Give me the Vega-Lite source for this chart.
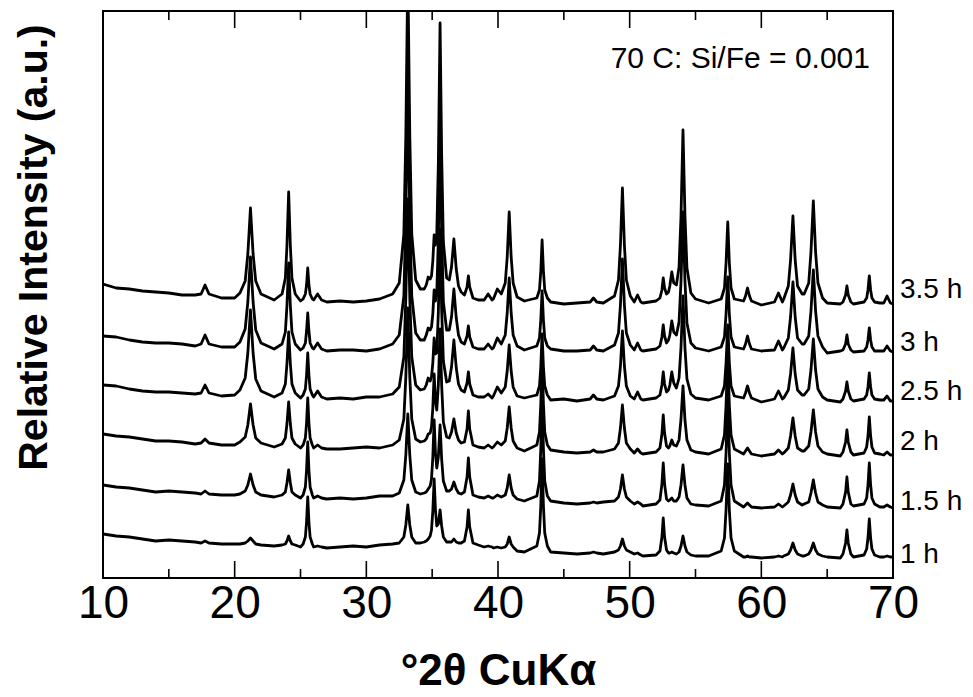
{
"$schema": "https://vega.github.io/schema/vega-lite/v6.json",
"width": 790, "height": 567,
"autosize": {"type": "none"},
"padding": {"left": 103, "top": 11, "right": 80, "bottom": 119},
"config": {"view": {"stroke": "#000", "strokeWidth": 2}, "font": "Liberation Sans, Arial, sans-serif", "axis": {"grid": false}},
"datasets": {
"xrd": [
{"t":"3.5 h","x":10,"y":294},{"t":"3.5 h","x":11,"y":290},{"t":"3.5 h","x":12,"y":289},{"t":"3.5 h","x":13,"y":287},{"t":"3.5 h","x":14,"y":286},{"t":"3.5 h","x":15,"y":285},{"t":"3.5 h","x":16,"y":283},{"t":"3.5 h","x":17,"y":283},{"t":"3.5 h","x":17.45,"y":284},{"t":"3.5 h","x":17.75,"y":293},{"t":"3.5 h","x":18.05,"y":284},{"t":"3.5 h","x":19,"y":280},{"t":"3.5 h","x":20,"y":280},{"t":"3.5 h","x":20.4,"y":285},{"t":"3.5 h","x":20.8,"y":297},{"t":"3.5 h","x":21,"y":324},{"t":"3.5 h","x":21.2,"y":370},{"t":"3.5 h","x":21.4,"y":324},{"t":"3.5 h","x":21.6,"y":297},{"t":"3.5 h","x":22,"y":284},{"t":"3.5 h","x":23,"y":278},{"t":"3.5 h","x":23.6,"y":284},{"t":"3.5 h","x":23.85,"y":300},{"t":"3.5 h","x":23.97,"y":332},{"t":"3.5 h","x":24.1,"y":386},{"t":"3.5 h","x":24.23,"y":332},{"t":"3.5 h","x":24.35,"y":300},{"t":"3.5 h","x":24.6,"y":284},{"t":"3.5 h","x":25,"y":277},{"t":"3.5 h","x":25.2,"y":279},{"t":"3.5 h","x":25.37,"y":284},{"t":"3.5 h","x":25.46,"y":293},{"t":"3.5 h","x":25.55,"y":310},{"t":"3.5 h","x":25.64,"y":293},{"t":"3.5 h","x":25.73,"y":284},{"t":"3.5 h","x":25.9,"y":279},{"t":"3.5 h","x":26,"y":278},{"t":"3.5 h","x":26.3,"y":284},{"t":"3.5 h","x":26.6,"y":278},{"t":"3.5 h","x":27,"y":276},{"t":"3.5 h","x":28,"y":277},{"t":"3.5 h","x":29,"y":276},{"t":"3.5 h","x":30,"y":277},{"t":"3.5 h","x":31,"y":279},{"t":"3.5 h","x":32,"y":284},{"t":"3.5 h","x":32.5,"y":295},{"t":"3.5 h","x":32.85,"y":344},{"t":"3.5 h","x":33,"y":443},{"t":"3.5 h","x":33.15,"y":608},{"t":"3.5 h","x":33.3,"y":443},{"t":"3.5 h","x":33.45,"y":344},{"t":"3.5 h","x":33.75,"y":298},{"t":"3.5 h","x":34.1,"y":289},{"t":"3.5 h","x":34.4,"y":289},{"t":"3.5 h","x":34.55,"y":293},{"t":"3.5 h","x":34.7,"y":301},{"t":"3.5 h","x":34.85,"y":299},{"t":"3.5 h","x":34.95,"y":302},{"t":"3.5 h","x":35.05,"y":317},{"t":"3.5 h","x":35.15,"y":343},{"t":"3.5 h","x":35.25,"y":333},{"t":"3.5 h","x":35.35,"y":344},{"t":"3.5 h","x":35.47,"y":415},{"t":"3.5 h","x":35.6,"y":555},{"t":"3.5 h","x":35.72,"y":423},{"t":"3.5 h","x":35.85,"y":336},{"t":"3.5 h","x":36.1,"y":300},{"t":"3.5 h","x":36.3,"y":298},{"t":"3.5 h","x":36.47,"y":311},{"t":"3.5 h","x":36.65,"y":339},{"t":"3.5 h","x":36.83,"y":309},{"t":"3.5 h","x":37,"y":292},{"t":"3.5 h","x":37.2,"y":286},{"t":"3.5 h","x":37.45,"y":283},{"t":"3.5 h","x":37.65,"y":291},{"t":"3.5 h","x":37.75,"y":302},{"t":"3.5 h","x":37.85,"y":291},{"t":"3.5 h","x":38.1,"y":280},{"t":"3.5 h","x":38.5,"y":278},{"t":"3.5 h","x":38.95,"y":278},{"t":"3.5 h","x":39.25,"y":284},{"t":"3.5 h","x":39.55,"y":278},{"t":"3.5 h","x":39.65,"y":279},{"t":"3.5 h","x":39.95,"y":289},{"t":"3.5 h","x":40.25,"y":284},{"t":"3.5 h","x":40.55,"y":295},{"t":"3.5 h","x":40.7,"y":321},{"t":"3.5 h","x":40.85,"y":366},{"t":"3.5 h","x":41,"y":321},{"t":"3.5 h","x":41.15,"y":295},{"t":"3.5 h","x":41.45,"y":281},{"t":"3.5 h","x":42,"y":277},{"t":"3.5 h","x":42.95,"y":280},{"t":"3.5 h","x":43.15,"y":288},{"t":"3.5 h","x":43.25,"y":307},{"t":"3.5 h","x":43.35,"y":338},{"t":"3.5 h","x":43.45,"y":307},{"t":"3.5 h","x":43.55,"y":288},{"t":"3.5 h","x":43.75,"y":280},{"t":"3.5 h","x":44,"y":276},{"t":"3.5 h","x":45,"y":274},{"t":"3.5 h","x":46,"y":275},{"t":"3.5 h","x":47,"y":276},{"t":"3.5 h","x":47.25,"y":280},{"t":"3.5 h","x":47.5,"y":276},{"t":"3.5 h","x":48,"y":275},{"t":"3.5 h","x":48.85,"y":282},{"t":"3.5 h","x":49.15,"y":298},{"t":"3.5 h","x":49.3,"y":333},{"t":"3.5 h","x":49.45,"y":390},{"t":"3.5 h","x":49.6,"y":333},{"t":"3.5 h","x":49.75,"y":298},{"t":"3.5 h","x":50.05,"y":282},{"t":"3.5 h","x":50.35,"y":276},{"t":"3.5 h","x":50.6,"y":283},{"t":"3.5 h","x":50.85,"y":276},{"t":"3.5 h","x":51,"y":275},{"t":"3.5 h","x":52,"y":277},{"t":"3.5 h","x":52.3,"y":280},{"t":"3.5 h","x":52.45,"y":288},{"t":"3.5 h","x":52.55,"y":300},{"t":"3.5 h","x":52.65,"y":290},{"t":"3.5 h","x":52.8,"y":284},{"t":"3.5 h","x":52.95,"y":286},{"t":"3.5 h","x":53.05,"y":292},{"t":"3.5 h","x":53.2,"y":306},{"t":"3.5 h","x":53.35,"y":295},{"t":"3.5 h","x":53.55,"y":293},{"t":"3.5 h","x":53.75,"y":311},{"t":"3.5 h","x":53.9,"y":362},{"t":"3.5 h","x":54.05,"y":448},{"t":"3.5 h","x":54.2,"y":362},{"t":"3.5 h","x":54.35,"y":310},{"t":"3.5 h","x":54.65,"y":285},{"t":"3.5 h","x":55,"y":279},{"t":"3.5 h","x":56,"y":275},{"t":"3.5 h","x":56.95,"y":279},{"t":"3.5 h","x":57.2,"y":290},{"t":"3.5 h","x":57.32,"y":315},{"t":"3.5 h","x":57.45,"y":356},{"t":"3.5 h","x":57.57,"y":315},{"t":"3.5 h","x":57.7,"y":290},{"t":"3.5 h","x":57.95,"y":279},{"t":"3.5 h","x":58.65,"y":277},{"t":"3.5 h","x":58.8,"y":282},{"t":"3.5 h","x":58.95,"y":290},{"t":"3.5 h","x":59.1,"y":282},{"t":"3.5 h","x":59.25,"y":277},{"t":"3.5 h","x":60,"y":273},{"t":"3.5 h","x":61,"y":276},{"t":"3.5 h","x":61.3,"y":285},{"t":"3.5 h","x":61.6,"y":276},{"t":"3.5 h","x":61.7,"y":279},{"t":"3.5 h","x":62.05,"y":292},{"t":"3.5 h","x":62.22,"y":318},{"t":"3.5 h","x":62.4,"y":362},{"t":"3.5 h","x":62.57,"y":318},{"t":"3.5 h","x":62.75,"y":292},{"t":"3.5 h","x":63.1,"y":284},{"t":"3.5 h","x":63.25,"y":284},{"t":"3.5 h","x":63.6,"y":295},{"t":"3.5 h","x":63.77,"y":326},{"t":"3.5 h","x":63.95,"y":377},{"t":"3.5 h","x":64.12,"y":326},{"t":"3.5 h","x":64.3,"y":295},{"t":"3.5 h","x":64.65,"y":280},{"t":"3.5 h","x":65,"y":275},{"t":"3.5 h","x":66,"y":274},{"t":"3.5 h","x":66.2,"y":276},{"t":"3.5 h","x":66.4,"y":283},{"t":"3.5 h","x":66.5,"y":292},{"t":"3.5 h","x":66.6,"y":283},{"t":"3.5 h","x":66.8,"y":276},{"t":"3.5 h","x":67,"y":274},{"t":"3.5 h","x":67.8,"y":276},{"t":"3.5 h","x":68,"y":280},{"t":"3.5 h","x":68.1,"y":288},{"t":"3.5 h","x":68.2,"y":302},{"t":"3.5 h","x":68.3,"y":288},{"t":"3.5 h","x":68.4,"y":280},{"t":"3.5 h","x":68.6,"y":276},{"t":"3.5 h","x":69,"y":275},{"t":"3.5 h","x":69.3,"y":275},{"t":"3.5 h","x":69.55,"y":282},{"t":"3.5 h","x":69.8,"y":275},{"t":"3.5 h","x":70,"y":274},
{"t":"3 h","x":10,"y":242},{"t":"3 h","x":11,"y":241},{"t":"3 h","x":12,"y":238},{"t":"3 h","x":13,"y":236},{"t":"3 h","x":14,"y":235},{"t":"3 h","x":15,"y":235},{"t":"3 h","x":16,"y":234},{"t":"3 h","x":17,"y":232},{"t":"3 h","x":17.45,"y":234},{"t":"3 h","x":17.75,"y":243},{"t":"3 h","x":18.05,"y":234},{"t":"3 h","x":19,"y":231},{"t":"3 h","x":20,"y":231},{"t":"3 h","x":20.4,"y":236},{"t":"3 h","x":20.8,"y":249},{"t":"3 h","x":21,"y":276},{"t":"3 h","x":21.2,"y":321},{"t":"3 h","x":21.4,"y":276},{"t":"3 h","x":21.6,"y":248},{"t":"3 h","x":22,"y":235},{"t":"3 h","x":23,"y":229},{"t":"3 h","x":23.6,"y":234},{"t":"3 h","x":23.85,"y":246},{"t":"3 h","x":23.97,"y":272},{"t":"3 h","x":24.1,"y":315},{"t":"3 h","x":24.23,"y":272},{"t":"3 h","x":24.35,"y":246},{"t":"3 h","x":24.6,"y":234},{"t":"3 h","x":25,"y":228},{"t":"3 h","x":25.2,"y":230},{"t":"3 h","x":25.37,"y":235},{"t":"3 h","x":25.46,"y":247},{"t":"3 h","x":25.55,"y":265},{"t":"3 h","x":25.64,"y":247},{"t":"3 h","x":25.73,"y":235},{"t":"3 h","x":25.9,"y":230},{"t":"3 h","x":26,"y":229},{"t":"3 h","x":26.3,"y":235},{"t":"3 h","x":26.6,"y":229},{"t":"3 h","x":27,"y":227},{"t":"3 h","x":28,"y":228},{"t":"3 h","x":29,"y":228},{"t":"3 h","x":30,"y":227},{"t":"3 h","x":31,"y":229},{"t":"3 h","x":32,"y":234},{"t":"3 h","x":32.5,"y":243},{"t":"3 h","x":32.85,"y":282},{"t":"3 h","x":33,"y":361},{"t":"3 h","x":33.15,"y":493},{"t":"3 h","x":33.3,"y":361},{"t":"3 h","x":33.45,"y":282},{"t":"3 h","x":33.75,"y":245},{"t":"3 h","x":34.1,"y":238},{"t":"3 h","x":34.4,"y":238},{"t":"3 h","x":34.55,"y":243},{"t":"3 h","x":34.7,"y":250},{"t":"3 h","x":34.85,"y":248},{"t":"3 h","x":34.95,"y":251},{"t":"3 h","x":35.05,"y":264},{"t":"3 h","x":35.15,"y":288},{"t":"3 h","x":35.25,"y":277},{"t":"3 h","x":35.35,"y":284},{"t":"3 h","x":35.47,"y":340},{"t":"3 h","x":35.6,"y":452},{"t":"3 h","x":35.72,"y":346},{"t":"3 h","x":35.85,"y":276},{"t":"3 h","x":36.1,"y":248},{"t":"3 h","x":36.3,"y":248},{"t":"3 h","x":36.47,"y":261},{"t":"3 h","x":36.65,"y":289},{"t":"3 h","x":36.83,"y":260},{"t":"3 h","x":37,"y":243},{"t":"3 h","x":37.2,"y":236},{"t":"3 h","x":37.45,"y":234},{"t":"3 h","x":37.65,"y":242},{"t":"3 h","x":37.75,"y":252},{"t":"3 h","x":37.85,"y":241},{"t":"3 h","x":38.1,"y":231},{"t":"3 h","x":38.5,"y":229},{"t":"3 h","x":38.95,"y":229},{"t":"3 h","x":39.25,"y":234},{"t":"3 h","x":39.55,"y":229},{"t":"3 h","x":39.65,"y":230},{"t":"3 h","x":39.95,"y":240},{"t":"3 h","x":40.25,"y":234},{"t":"3 h","x":40.55,"y":243},{"t":"3 h","x":40.7,"y":265},{"t":"3 h","x":40.85,"y":300},{"t":"3 h","x":41,"y":265},{"t":"3 h","x":41.15,"y":243},{"t":"3 h","x":41.45,"y":232},{"t":"3 h","x":42,"y":228},{"t":"3 h","x":42.95,"y":232},{"t":"3 h","x":43.15,"y":240},{"t":"3 h","x":43.25,"y":258},{"t":"3 h","x":43.35,"y":287},{"t":"3 h","x":43.45,"y":258},{"t":"3 h","x":43.55,"y":240},{"t":"3 h","x":43.75,"y":232},{"t":"3 h","x":44,"y":229},{"t":"3 h","x":45,"y":227},{"t":"3 h","x":46,"y":227},{"t":"3 h","x":47,"y":228},{"t":"3 h","x":47.25,"y":232},{"t":"3 h","x":47.5,"y":228},{"t":"3 h","x":48,"y":227},{"t":"3 h","x":48.85,"y":233},{"t":"3 h","x":49.15,"y":245},{"t":"3 h","x":49.3,"y":273},{"t":"3 h","x":49.45,"y":319},{"t":"3 h","x":49.6,"y":273},{"t":"3 h","x":49.75,"y":245},{"t":"3 h","x":50.05,"y":233},{"t":"3 h","x":50.35,"y":228},{"t":"3 h","x":50.6,"y":235},{"t":"3 h","x":50.85,"y":228},{"t":"3 h","x":51,"y":227},{"t":"3 h","x":52,"y":229},{"t":"3 h","x":52.3,"y":232},{"t":"3 h","x":52.45,"y":241},{"t":"3 h","x":52.55,"y":253},{"t":"3 h","x":52.65,"y":242},{"t":"3 h","x":52.8,"y":235},{"t":"3 h","x":52.95,"y":238},{"t":"3 h","x":53.05,"y":243},{"t":"3 h","x":53.2,"y":257},{"t":"3 h","x":53.35,"y":246},{"t":"3 h","x":53.55,"y":243},{"t":"3 h","x":53.75,"y":256},{"t":"3 h","x":53.9,"y":297},{"t":"3 h","x":54.05,"y":366},{"t":"3 h","x":54.2,"y":297},{"t":"3 h","x":54.35,"y":255},{"t":"3 h","x":54.65,"y":235},{"t":"3 h","x":55,"y":230},{"t":"3 h","x":56,"y":227},{"t":"3 h","x":56.95,"y":231},{"t":"3 h","x":57.2,"y":241},{"t":"3 h","x":57.32,"y":264},{"t":"3 h","x":57.45,"y":301},{"t":"3 h","x":57.57,"y":264},{"t":"3 h","x":57.7,"y":241},{"t":"3 h","x":57.95,"y":231},{"t":"3 h","x":58.65,"y":229},{"t":"3 h","x":58.8,"y":234},{"t":"3 h","x":58.95,"y":242},{"t":"3 h","x":59.1,"y":234},{"t":"3 h","x":59.25,"y":229},{"t":"3 h","x":60,"y":227},{"t":"3 h","x":61,"y":228},{"t":"3 h","x":61.3,"y":237},{"t":"3 h","x":61.6,"y":228},{"t":"3 h","x":61.7,"y":230},{"t":"3 h","x":62.05,"y":240},{"t":"3 h","x":62.22,"y":261},{"t":"3 h","x":62.4,"y":296},{"t":"3 h","x":62.57,"y":261},{"t":"3 h","x":62.75,"y":240},{"t":"3 h","x":63.1,"y":234},{"t":"3 h","x":63.25,"y":234},{"t":"3 h","x":63.6,"y":242},{"t":"3 h","x":63.77,"y":267},{"t":"3 h","x":63.95,"y":308},{"t":"3 h","x":64.12,"y":267},{"t":"3 h","x":64.3,"y":242},{"t":"3 h","x":64.65,"y":231},{"t":"3 h","x":65,"y":225},{"t":"3 h","x":66,"y":227},{"t":"3 h","x":66.2,"y":228},{"t":"3 h","x":66.4,"y":234},{"t":"3 h","x":66.5,"y":243},{"t":"3 h","x":66.6,"y":234},{"t":"3 h","x":66.8,"y":228},{"t":"3 h","x":67,"y":226},{"t":"3 h","x":67.8,"y":227},{"t":"3 h","x":68,"y":231},{"t":"3 h","x":68.1,"y":238},{"t":"3 h","x":68.2,"y":250},{"t":"3 h","x":68.3,"y":238},{"t":"3 h","x":68.4,"y":231},{"t":"3 h","x":68.6,"y":227},{"t":"3 h","x":69,"y":227},{"t":"3 h","x":69.3,"y":227},{"t":"3 h","x":69.55,"y":232},{"t":"3 h","x":69.8,"y":227},{"t":"3 h","x":70,"y":226},
{"t":"2.5 h","x":10,"y":193},{"t":"2.5 h","x":11,"y":192},{"t":"2.5 h","x":12,"y":189},{"t":"2.5 h","x":13,"y":187},{"t":"2.5 h","x":14,"y":186},{"t":"2.5 h","x":15,"y":186},{"t":"2.5 h","x":16,"y":185},{"t":"2.5 h","x":17,"y":184},{"t":"2.5 h","x":17.45,"y":185},{"t":"2.5 h","x":17.75,"y":193},{"t":"2.5 h","x":18.05,"y":185},{"t":"2.5 h","x":19,"y":182},{"t":"2.5 h","x":20,"y":183},{"t":"2.5 h","x":20.4,"y":188},{"t":"2.5 h","x":20.8,"y":200},{"t":"2.5 h","x":21,"y":225},{"t":"2.5 h","x":21.2,"y":268},{"t":"2.5 h","x":21.4,"y":225},{"t":"2.5 h","x":21.6,"y":199},{"t":"2.5 h","x":22,"y":187},{"t":"2.5 h","x":23,"y":181},{"t":"2.5 h","x":23.6,"y":185},{"t":"2.5 h","x":23.85,"y":194},{"t":"2.5 h","x":23.97,"y":214},{"t":"2.5 h","x":24.1,"y":246},{"t":"2.5 h","x":24.23,"y":214},{"t":"2.5 h","x":24.35,"y":194},{"t":"2.5 h","x":24.6,"y":185},{"t":"2.5 h","x":25,"y":180},{"t":"2.5 h","x":25.2,"y":183},{"t":"2.5 h","x":25.37,"y":189},{"t":"2.5 h","x":25.46,"y":203},{"t":"2.5 h","x":25.55,"y":225},{"t":"2.5 h","x":25.64,"y":203},{"t":"2.5 h","x":25.73,"y":189},{"t":"2.5 h","x":25.9,"y":183},{"t":"2.5 h","x":26,"y":181},{"t":"2.5 h","x":26.3,"y":187},{"t":"2.5 h","x":26.6,"y":181},{"t":"2.5 h","x":27,"y":179},{"t":"2.5 h","x":28,"y":180},{"t":"2.5 h","x":29,"y":179},{"t":"2.5 h","x":30,"y":181},{"t":"2.5 h","x":31,"y":181},{"t":"2.5 h","x":32,"y":184},{"t":"2.5 h","x":32.5,"y":191},{"t":"2.5 h","x":32.85,"y":221},{"t":"2.5 h","x":33,"y":280},{"t":"2.5 h","x":33.15,"y":379},{"t":"2.5 h","x":33.3,"y":280},{"t":"2.5 h","x":33.45,"y":221},{"t":"2.5 h","x":33.75,"y":193},{"t":"2.5 h","x":34.1,"y":188},{"t":"2.5 h","x":34.4,"y":189},{"t":"2.5 h","x":34.55,"y":193},{"t":"2.5 h","x":34.7,"y":200},{"t":"2.5 h","x":34.85,"y":197},{"t":"2.5 h","x":34.95,"y":201},{"t":"2.5 h","x":35.05,"y":215},{"t":"2.5 h","x":35.15,"y":240},{"t":"2.5 h","x":35.25,"y":224},{"t":"2.5 h","x":35.35,"y":225},{"t":"2.5 h","x":35.47,"y":266},{"t":"2.5 h","x":35.6,"y":349},{"t":"2.5 h","x":35.72,"y":269},{"t":"2.5 h","x":35.85,"y":217},{"t":"2.5 h","x":36.1,"y":196},{"t":"2.5 h","x":36.3,"y":197},{"t":"2.5 h","x":36.47,"y":211},{"t":"2.5 h","x":36.65,"y":238},{"t":"2.5 h","x":36.83,"y":210},{"t":"2.5 h","x":37,"y":194},{"t":"2.5 h","x":37.2,"y":188},{"t":"2.5 h","x":37.45,"y":186},{"t":"2.5 h","x":37.65,"y":195},{"t":"2.5 h","x":37.75,"y":206},{"t":"2.5 h","x":37.85,"y":194},{"t":"2.5 h","x":38.1,"y":183},{"t":"2.5 h","x":38.5,"y":181},{"t":"2.5 h","x":38.95,"y":181},{"t":"2.5 h","x":39.25,"y":184},{"t":"2.5 h","x":39.55,"y":180},{"t":"2.5 h","x":39.65,"y":182},{"t":"2.5 h","x":39.95,"y":191},{"t":"2.5 h","x":40.25,"y":185},{"t":"2.5 h","x":40.55,"y":191},{"t":"2.5 h","x":40.7,"y":207},{"t":"2.5 h","x":40.85,"y":233},{"t":"2.5 h","x":41,"y":207},{"t":"2.5 h","x":41.15,"y":191},{"t":"2.5 h","x":41.45,"y":182},{"t":"2.5 h","x":42,"y":180},{"t":"2.5 h","x":42.95,"y":183},{"t":"2.5 h","x":43.15,"y":192},{"t":"2.5 h","x":43.25,"y":211},{"t":"2.5 h","x":43.35,"y":244},{"t":"2.5 h","x":43.45,"y":211},{"t":"2.5 h","x":43.55,"y":192},{"t":"2.5 h","x":43.75,"y":183},{"t":"2.5 h","x":44,"y":178},{"t":"2.5 h","x":45,"y":179},{"t":"2.5 h","x":46,"y":177},{"t":"2.5 h","x":47,"y":179},{"t":"2.5 h","x":47.25,"y":183},{"t":"2.5 h","x":47.5,"y":179},{"t":"2.5 h","x":48,"y":178},{"t":"2.5 h","x":48.85,"y":182},{"t":"2.5 h","x":49.15,"y":192},{"t":"2.5 h","x":49.3,"y":212},{"t":"2.5 h","x":49.45,"y":247},{"t":"2.5 h","x":49.6,"y":212},{"t":"2.5 h","x":49.75,"y":192},{"t":"2.5 h","x":50.05,"y":182},{"t":"2.5 h","x":50.35,"y":179},{"t":"2.5 h","x":50.6,"y":186},{"t":"2.5 h","x":50.85,"y":179},{"t":"2.5 h","x":51,"y":178},{"t":"2.5 h","x":52,"y":180},{"t":"2.5 h","x":52.3,"y":183},{"t":"2.5 h","x":52.45,"y":193},{"t":"2.5 h","x":52.55,"y":206},{"t":"2.5 h","x":52.65,"y":194},{"t":"2.5 h","x":52.8,"y":186},{"t":"2.5 h","x":52.95,"y":188},{"t":"2.5 h","x":53.05,"y":193},{"t":"2.5 h","x":53.2,"y":206},{"t":"2.5 h","x":53.35,"y":195},{"t":"2.5 h","x":53.55,"y":190},{"t":"2.5 h","x":53.75,"y":200},{"t":"2.5 h","x":53.9,"y":231},{"t":"2.5 h","x":54.05,"y":282},{"t":"2.5 h","x":54.2,"y":230},{"t":"2.5 h","x":54.35,"y":199},{"t":"2.5 h","x":54.65,"y":184},{"t":"2.5 h","x":55,"y":180},{"t":"2.5 h","x":56,"y":178},{"t":"2.5 h","x":56.95,"y":182},{"t":"2.5 h","x":57.2,"y":192},{"t":"2.5 h","x":57.32,"y":215},{"t":"2.5 h","x":57.45,"y":253},{"t":"2.5 h","x":57.57,"y":215},{"t":"2.5 h","x":57.7,"y":192},{"t":"2.5 h","x":57.95,"y":182},{"t":"2.5 h","x":58.65,"y":180},{"t":"2.5 h","x":58.8,"y":185},{"t":"2.5 h","x":58.95,"y":192},{"t":"2.5 h","x":59.1,"y":185},{"t":"2.5 h","x":59.25,"y":180},{"t":"2.5 h","x":60,"y":176},{"t":"2.5 h","x":61,"y":179},{"t":"2.5 h","x":61.3,"y":187},{"t":"2.5 h","x":61.6,"y":179},{"t":"2.5 h","x":61.7,"y":180},{"t":"2.5 h","x":62.05,"y":188},{"t":"2.5 h","x":62.22,"y":204},{"t":"2.5 h","x":62.4,"y":230},{"t":"2.5 h","x":62.57,"y":204},{"t":"2.5 h","x":62.75,"y":188},{"t":"2.5 h","x":63.1,"y":183},{"t":"2.5 h","x":63.25,"y":183},{"t":"2.5 h","x":63.6,"y":189},{"t":"2.5 h","x":63.77,"y":208},{"t":"2.5 h","x":63.95,"y":239},{"t":"2.5 h","x":64.12,"y":208},{"t":"2.5 h","x":64.3,"y":189},{"t":"2.5 h","x":64.65,"y":181},{"t":"2.5 h","x":65,"y":178},{"t":"2.5 h","x":66,"y":176},{"t":"2.5 h","x":66.2,"y":179},{"t":"2.5 h","x":66.4,"y":187},{"t":"2.5 h","x":66.5,"y":196},{"t":"2.5 h","x":66.6,"y":187},{"t":"2.5 h","x":66.8,"y":179},{"t":"2.5 h","x":67,"y":177},{"t":"2.5 h","x":67.8,"y":179},{"t":"2.5 h","x":68,"y":183},{"t":"2.5 h","x":68.1,"y":191},{"t":"2.5 h","x":68.2,"y":205},{"t":"2.5 h","x":68.3,"y":191},{"t":"2.5 h","x":68.4,"y":183},{"t":"2.5 h","x":68.6,"y":179},{"t":"2.5 h","x":69,"y":178},{"t":"2.5 h","x":69.3,"y":178},{"t":"2.5 h","x":69.55,"y":182},{"t":"2.5 h","x":69.8,"y":177},{"t":"2.5 h","x":70,"y":177},
{"t":"2 h","x":10,"y":144},{"t":"2 h","x":11,"y":142},{"t":"2 h","x":12,"y":141},{"t":"2 h","x":13,"y":139},{"t":"2 h","x":14,"y":137},{"t":"2 h","x":15,"y":137},{"t":"2 h","x":16,"y":136},{"t":"2 h","x":17,"y":134},{"t":"2 h","x":17.45,"y":135},{"t":"2 h","x":17.75,"y":139},{"t":"2 h","x":18.05,"y":135},{"t":"2 h","x":19,"y":133},{"t":"2 h","x":20,"y":133},{"t":"2 h","x":20.4,"y":136},{"t":"2 h","x":20.8,"y":141},{"t":"2 h","x":21,"y":153},{"t":"2 h","x":21.2,"y":174},{"t":"2 h","x":21.4,"y":153},{"t":"2 h","x":21.6,"y":140},{"t":"2 h","x":22,"y":135},{"t":"2 h","x":23,"y":131},{"t":"2 h","x":23.6,"y":134},{"t":"2 h","x":23.85,"y":140},{"t":"2 h","x":23.97,"y":154},{"t":"2 h","x":24.1,"y":176},{"t":"2 h","x":24.23,"y":154},{"t":"2 h","x":24.35,"y":140},{"t":"2 h","x":24.6,"y":134},{"t":"2 h","x":25,"y":130},{"t":"2 h","x":25.2,"y":133},{"t":"2 h","x":25.37,"y":140},{"t":"2 h","x":25.46,"y":155},{"t":"2 h","x":25.55,"y":180},{"t":"2 h","x":25.64,"y":155},{"t":"2 h","x":25.73,"y":140},{"t":"2 h","x":25.9,"y":133},{"t":"2 h","x":26,"y":130},{"t":"2 h","x":26.3,"y":133},{"t":"2 h","x":26.6,"y":130},{"t":"2 h","x":27,"y":129},{"t":"2 h","x":28,"y":129},{"t":"2 h","x":29,"y":130},{"t":"2 h","x":30,"y":131},{"t":"2 h","x":31,"y":130},{"t":"2 h","x":32,"y":133},{"t":"2 h","x":32.5,"y":138},{"t":"2 h","x":32.85,"y":159},{"t":"2 h","x":33,"y":201},{"t":"2 h","x":33.15,"y":270},{"t":"2 h","x":33.3,"y":201},{"t":"2 h","x":33.45,"y":159},{"t":"2 h","x":33.75,"y":139},{"t":"2 h","x":34.1,"y":136},{"t":"2 h","x":34.4,"y":137},{"t":"2 h","x":34.55,"y":139},{"t":"2 h","x":34.7,"y":144},{"t":"2 h","x":34.85,"y":145},{"t":"2 h","x":34.95,"y":151},{"t":"2 h","x":35.05,"y":170},{"t":"2 h","x":35.15,"y":204},{"t":"2 h","x":35.25,"y":177},{"t":"2 h","x":35.35,"y":168},{"t":"2 h","x":35.47,"y":193},{"t":"2 h","x":35.6,"y":249},{"t":"2 h","x":35.72,"y":193},{"t":"2 h","x":35.85,"y":156},{"t":"2 h","x":36.1,"y":141},{"t":"2 h","x":36.3,"y":140},{"t":"2 h","x":36.47,"y":146},{"t":"2 h","x":36.65,"y":159},{"t":"2 h","x":36.83,"y":145},{"t":"2 h","x":37,"y":138},{"t":"2 h","x":37.2,"y":135},{"t":"2 h","x":37.45,"y":136},{"t":"2 h","x":37.65,"y":149},{"t":"2 h","x":37.75,"y":167},{"t":"2 h","x":37.85,"y":149},{"t":"2 h","x":38.1,"y":133},{"t":"2 h","x":38.5,"y":131},{"t":"2 h","x":38.95,"y":130},{"t":"2 h","x":39.25,"y":133},{"t":"2 h","x":39.55,"y":130},{"t":"2 h","x":39.65,"y":131},{"t":"2 h","x":39.95,"y":136},{"t":"2 h","x":40.25,"y":133},{"t":"2 h","x":40.55,"y":137},{"t":"2 h","x":40.7,"y":150},{"t":"2 h","x":40.85,"y":171},{"t":"2 h","x":41,"y":150},{"t":"2 h","x":41.15,"y":137},{"t":"2 h","x":41.45,"y":130},{"t":"2 h","x":42,"y":127},{"t":"2 h","x":42.95,"y":133},{"t":"2 h","x":43.15,"y":146},{"t":"2 h","x":43.25,"y":174},{"t":"2 h","x":43.35,"y":220},{"t":"2 h","x":43.45,"y":174},{"t":"2 h","x":43.55,"y":146},{"t":"2 h","x":43.75,"y":133},{"t":"2 h","x":44,"y":128},{"t":"2 h","x":45,"y":126},{"t":"2 h","x":46,"y":125},{"t":"2 h","x":47,"y":126},{"t":"2 h","x":47.25,"y":128},{"t":"2 h","x":47.5,"y":126},{"t":"2 h","x":48,"y":126},{"t":"2 h","x":48.85,"y":129},{"t":"2 h","x":49.15,"y":135},{"t":"2 h","x":49.3,"y":150},{"t":"2 h","x":49.45,"y":173},{"t":"2 h","x":49.6,"y":150},{"t":"2 h","x":49.75,"y":135},{"t":"2 h","x":50.05,"y":129},{"t":"2 h","x":50.35,"y":125},{"t":"2 h","x":50.6,"y":129},{"t":"2 h","x":50.85,"y":125},{"t":"2 h","x":51,"y":124},{"t":"2 h","x":52,"y":126},{"t":"2 h","x":52.3,"y":130},{"t":"2 h","x":52.45,"y":144},{"t":"2 h","x":52.55,"y":163},{"t":"2 h","x":52.65,"y":145},{"t":"2 h","x":52.8,"y":132},{"t":"2 h","x":52.95,"y":130},{"t":"2 h","x":53.05,"y":132},{"t":"2 h","x":53.2,"y":138},{"t":"2 h","x":53.35,"y":133},{"t":"2 h","x":53.55,"y":132},{"t":"2 h","x":53.75,"y":138},{"t":"2 h","x":53.9,"y":159},{"t":"2 h","x":54.05,"y":192},{"t":"2 h","x":54.2,"y":158},{"t":"2 h","x":54.35,"y":138},{"t":"2 h","x":54.65,"y":128},{"t":"2 h","x":55,"y":126},{"t":"2 h","x":56,"y":124},{"t":"2 h","x":56.95,"y":129},{"t":"2 h","x":57.2,"y":143},{"t":"2 h","x":57.32,"y":173},{"t":"2 h","x":57.45,"y":222},{"t":"2 h","x":57.57,"y":173},{"t":"2 h","x":57.7,"y":143},{"t":"2 h","x":57.95,"y":129},{"t":"2 h","x":58.65,"y":124},{"t":"2 h","x":58.8,"y":127},{"t":"2 h","x":58.95,"y":130},{"t":"2 h","x":59.1,"y":127},{"t":"2 h","x":59.25,"y":124},{"t":"2 h","x":60,"y":122},{"t":"2 h","x":61,"y":124},{"t":"2 h","x":61.3,"y":128},{"t":"2 h","x":61.6,"y":124},{"t":"2 h","x":61.7,"y":125},{"t":"2 h","x":62.05,"y":130},{"t":"2 h","x":62.22,"y":142},{"t":"2 h","x":62.4,"y":160},{"t":"2 h","x":62.57,"y":142},{"t":"2 h","x":62.75,"y":130},{"t":"2 h","x":63.1,"y":127},{"t":"2 h","x":63.25,"y":127},{"t":"2 h","x":63.6,"y":132},{"t":"2 h","x":63.77,"y":146},{"t":"2 h","x":63.95,"y":168},{"t":"2 h","x":64.12,"y":146},{"t":"2 h","x":64.3,"y":132},{"t":"2 h","x":64.65,"y":126},{"t":"2 h","x":65,"y":124},{"t":"2 h","x":66,"y":122},{"t":"2 h","x":66.2,"y":126},{"t":"2 h","x":66.4,"y":136},{"t":"2 h","x":66.5,"y":148},{"t":"2 h","x":66.6,"y":136},{"t":"2 h","x":66.8,"y":126},{"t":"2 h","x":67,"y":123},{"t":"2 h","x":67.8,"y":125},{"t":"2 h","x":68,"y":131},{"t":"2 h","x":68.1,"y":142},{"t":"2 h","x":68.2,"y":161},{"t":"2 h","x":68.3,"y":142},{"t":"2 h","x":68.4,"y":131},{"t":"2 h","x":68.6,"y":125},{"t":"2 h","x":69,"y":124},{"t":"2 h","x":69.3,"y":123},{"t":"2 h","x":69.55,"y":126},{"t":"2 h","x":69.8,"y":123},{"t":"2 h","x":70,"y":123},
{"t":"1.5 h","x":10,"y":93},{"t":"1.5 h","x":11,"y":91},{"t":"1.5 h","x":12,"y":90},{"t":"1.5 h","x":13,"y":88},{"t":"1.5 h","x":14,"y":86},{"t":"1.5 h","x":15,"y":87},{"t":"1.5 h","x":16,"y":86},{"t":"1.5 h","x":17,"y":85},{"t":"1.5 h","x":17.45,"y":84},{"t":"1.5 h","x":17.75,"y":87},{"t":"1.5 h","x":18.05,"y":84},{"t":"1.5 h","x":19,"y":83},{"t":"1.5 h","x":20,"y":83},{"t":"1.5 h","x":20.4,"y":84},{"t":"1.5 h","x":20.8,"y":87},{"t":"1.5 h","x":21,"y":93},{"t":"1.5 h","x":21.2,"y":104},{"t":"1.5 h","x":21.4,"y":93},{"t":"1.5 h","x":21.6,"y":86},{"t":"1.5 h","x":22,"y":83},{"t":"1.5 h","x":23,"y":81},{"t":"1.5 h","x":23.6,"y":83},{"t":"1.5 h","x":23.85,"y":86},{"t":"1.5 h","x":23.97,"y":95},{"t":"1.5 h","x":24.1,"y":108},{"t":"1.5 h","x":24.23,"y":95},{"t":"1.5 h","x":24.35,"y":86},{"t":"1.5 h","x":24.6,"y":83},{"t":"1.5 h","x":25,"y":80},{"t":"1.5 h","x":25.2,"y":83},{"t":"1.5 h","x":25.37,"y":91},{"t":"1.5 h","x":25.46,"y":108},{"t":"1.5 h","x":25.55,"y":136},{"t":"1.5 h","x":25.64,"y":108},{"t":"1.5 h","x":25.73,"y":91},{"t":"1.5 h","x":25.9,"y":83},{"t":"1.5 h","x":26,"y":80},{"t":"1.5 h","x":26.3,"y":82},{"t":"1.5 h","x":26.6,"y":80},{"t":"1.5 h","x":27,"y":79},{"t":"1.5 h","x":28,"y":80},{"t":"1.5 h","x":29,"y":79},{"t":"1.5 h","x":30,"y":80},{"t":"1.5 h","x":31,"y":82},{"t":"1.5 h","x":32,"y":82},{"t":"1.5 h","x":32.5,"y":85},{"t":"1.5 h","x":32.85,"y":98},{"t":"1.5 h","x":33,"y":123},{"t":"1.5 h","x":33.15,"y":164},{"t":"1.5 h","x":33.3,"y":123},{"t":"1.5 h","x":33.45,"y":98},{"t":"1.5 h","x":33.75,"y":86},{"t":"1.5 h","x":34.1,"y":84},{"t":"1.5 h","x":34.4,"y":85},{"t":"1.5 h","x":34.55,"y":86},{"t":"1.5 h","x":34.7,"y":89},{"t":"1.5 h","x":34.85,"y":92},{"t":"1.5 h","x":34.95,"y":99},{"t":"1.5 h","x":35.05,"y":121},{"t":"1.5 h","x":35.15,"y":158},{"t":"1.5 h","x":35.25,"y":125},{"t":"1.5 h","x":35.35,"y":110},{"t":"1.5 h","x":35.47,"y":121},{"t":"1.5 h","x":35.6,"y":153},{"t":"1.5 h","x":35.72,"y":119},{"t":"1.5 h","x":35.85,"y":97},{"t":"1.5 h","x":36.1,"y":87},{"t":"1.5 h","x":36.3,"y":87},{"t":"1.5 h","x":36.47,"y":89},{"t":"1.5 h","x":36.65,"y":96},{"t":"1.5 h","x":36.83,"y":89},{"t":"1.5 h","x":37,"y":85},{"t":"1.5 h","x":37.2,"y":84},{"t":"1.5 h","x":37.45,"y":86},{"t":"1.5 h","x":37.65,"y":101},{"t":"1.5 h","x":37.75,"y":120},{"t":"1.5 h","x":37.85,"y":101},{"t":"1.5 h","x":38.1,"y":83},{"t":"1.5 h","x":38.5,"y":81},{"t":"1.5 h","x":38.95,"y":80},{"t":"1.5 h","x":39.25,"y":82},{"t":"1.5 h","x":39.55,"y":80},{"t":"1.5 h","x":39.65,"y":80},{"t":"1.5 h","x":39.95,"y":83},{"t":"1.5 h","x":40.25,"y":81},{"t":"1.5 h","x":40.55,"y":83},{"t":"1.5 h","x":40.7,"y":90},{"t":"1.5 h","x":40.85,"y":103},{"t":"1.5 h","x":41,"y":90},{"t":"1.5 h","x":41.15,"y":83},{"t":"1.5 h","x":41.45,"y":79},{"t":"1.5 h","x":42,"y":77},{"t":"1.5 h","x":42.95,"y":82},{"t":"1.5 h","x":43.15,"y":97},{"t":"1.5 h","x":43.25,"y":129},{"t":"1.5 h","x":43.35,"y":181},{"t":"1.5 h","x":43.45,"y":129},{"t":"1.5 h","x":43.55,"y":97},{"t":"1.5 h","x":43.75,"y":82},{"t":"1.5 h","x":44,"y":77},{"t":"1.5 h","x":45,"y":75},{"t":"1.5 h","x":46,"y":74},{"t":"1.5 h","x":47,"y":75},{"t":"1.5 h","x":47.25,"y":76},{"t":"1.5 h","x":47.5,"y":75},{"t":"1.5 h","x":48,"y":76},{"t":"1.5 h","x":48.85,"y":77},{"t":"1.5 h","x":49.15,"y":81},{"t":"1.5 h","x":49.3,"y":89},{"t":"1.5 h","x":49.45,"y":103},{"t":"1.5 h","x":49.6,"y":89},{"t":"1.5 h","x":49.75,"y":81},{"t":"1.5 h","x":50.05,"y":77},{"t":"1.5 h","x":50.35,"y":74},{"t":"1.5 h","x":50.6,"y":76},{"t":"1.5 h","x":50.85,"y":74},{"t":"1.5 h","x":51,"y":72},{"t":"1.5 h","x":52,"y":74},{"t":"1.5 h","x":52.3,"y":78},{"t":"1.5 h","x":52.45,"y":94},{"t":"1.5 h","x":52.55,"y":115},{"t":"1.5 h","x":52.65,"y":94},{"t":"1.5 h","x":52.8,"y":79},{"t":"1.5 h","x":52.95,"y":77},{"t":"1.5 h","x":53.05,"y":78},{"t":"1.5 h","x":53.2,"y":80},{"t":"1.5 h","x":53.35,"y":77},{"t":"1.5 h","x":53.55,"y":77},{"t":"1.5 h","x":53.75,"y":81},{"t":"1.5 h","x":53.9,"y":93},{"t":"1.5 h","x":54.05,"y":113},{"t":"1.5 h","x":54.2,"y":93},{"t":"1.5 h","x":54.35,"y":80},{"t":"1.5 h","x":54.65,"y":74},{"t":"1.5 h","x":55,"y":73},{"t":"1.5 h","x":56,"y":72},{"t":"1.5 h","x":56.95,"y":77},{"t":"1.5 h","x":57.2,"y":93},{"t":"1.5 h","x":57.32,"y":125},{"t":"1.5 h","x":57.45,"y":179},{"t":"1.5 h","x":57.57,"y":125},{"t":"1.5 h","x":57.7,"y":93},{"t":"1.5 h","x":57.95,"y":77},{"t":"1.5 h","x":58.65,"y":71},{"t":"1.5 h","x":58.8,"y":73},{"t":"1.5 h","x":58.95,"y":75},{"t":"1.5 h","x":59.1,"y":73},{"t":"1.5 h","x":59.25,"y":71},{"t":"1.5 h","x":60,"y":70},{"t":"1.5 h","x":61,"y":71},{"t":"1.5 h","x":61.3,"y":74},{"t":"1.5 h","x":61.6,"y":71},{"t":"1.5 h","x":61.7,"y":72},{"t":"1.5 h","x":62.05,"y":76},{"t":"1.5 h","x":62.22,"y":83},{"t":"1.5 h","x":62.4,"y":94},{"t":"1.5 h","x":62.57,"y":83},{"t":"1.5 h","x":62.75,"y":76},{"t":"1.5 h","x":63.1,"y":73},{"t":"1.5 h","x":63.25,"y":74},{"t":"1.5 h","x":63.6,"y":76},{"t":"1.5 h","x":63.77,"y":85},{"t":"1.5 h","x":63.95,"y":98},{"t":"1.5 h","x":64.12,"y":85},{"t":"1.5 h","x":64.3,"y":76},{"t":"1.5 h","x":64.65,"y":73},{"t":"1.5 h","x":65,"y":71},{"t":"1.5 h","x":66,"y":70},{"t":"1.5 h","x":66.2,"y":74},{"t":"1.5 h","x":66.4,"y":86},{"t":"1.5 h","x":66.5,"y":101},{"t":"1.5 h","x":66.6,"y":86},{"t":"1.5 h","x":66.8,"y":74},{"t":"1.5 h","x":67,"y":72},{"t":"1.5 h","x":67.8,"y":74},{"t":"1.5 h","x":68,"y":80},{"t":"1.5 h","x":68.1,"y":93},{"t":"1.5 h","x":68.2,"y":115},{"t":"1.5 h","x":68.3,"y":93},{"t":"1.5 h","x":68.4,"y":80},{"t":"1.5 h","x":68.6,"y":74},{"t":"1.5 h","x":69,"y":71},{"t":"1.5 h","x":69.3,"y":71},{"t":"1.5 h","x":69.55,"y":73},{"t":"1.5 h","x":69.8,"y":71},{"t":"1.5 h","x":70,"y":70},
{"t":"1 h","x":10,"y":44},{"t":"1 h","x":11,"y":42},{"t":"1 h","x":12,"y":41},{"t":"1 h","x":13,"y":39},{"t":"1 h","x":14,"y":37},{"t":"1 h","x":15,"y":38},{"t":"1 h","x":16,"y":37},{"t":"1 h","x":17,"y":36},{"t":"1 h","x":17.45,"y":35},{"t":"1 h","x":17.75,"y":37},{"t":"1 h","x":18.05,"y":35},{"t":"1 h","x":19,"y":34},{"t":"1 h","x":20,"y":34},{"t":"1 h","x":20.4,"y":34},{"t":"1 h","x":20.8,"y":35},{"t":"1 h","x":21,"y":37},{"t":"1 h","x":21.2,"y":40},{"t":"1 h","x":21.4,"y":37},{"t":"1 h","x":21.6,"y":34},{"t":"1 h","x":22,"y":33},{"t":"1 h","x":23,"y":32},{"t":"1 h","x":23.6,"y":33},{"t":"1 h","x":23.85,"y":34},{"t":"1 h","x":23.97,"y":37},{"t":"1 h","x":24.1,"y":42},{"t":"1 h","x":24.23,"y":37},{"t":"1 h","x":24.35,"y":34},{"t":"1 h","x":24.6,"y":33},{"t":"1 h","x":25,"y":31},{"t":"1 h","x":25.2,"y":34},{"t":"1 h","x":25.37,"y":41},{"t":"1 h","x":25.46,"y":56},{"t":"1 h","x":25.55,"y":81},{"t":"1 h","x":25.64,"y":56},{"t":"1 h","x":25.73,"y":41},{"t":"1 h","x":25.9,"y":34},{"t":"1 h","x":26,"y":31},{"t":"1 h","x":26.3,"y":32},{"t":"1 h","x":26.6,"y":31},{"t":"1 h","x":27,"y":30},{"t":"1 h","x":28,"y":31},{"t":"1 h","x":29,"y":32},{"t":"1 h","x":30,"y":31},{"t":"1 h","x":31,"y":33},{"t":"1 h","x":32,"y":34},{"t":"1 h","x":32.5,"y":35},{"t":"1 h","x":32.85,"y":41},{"t":"1 h","x":33,"y":53},{"t":"1 h","x":33.15,"y":73},{"t":"1 h","x":33.3,"y":53},{"t":"1 h","x":33.45,"y":41},{"t":"1 h","x":33.75,"y":35},{"t":"1 h","x":34.1,"y":35},{"t":"1 h","x":34.4,"y":36},{"t":"1 h","x":34.55,"y":37},{"t":"1 h","x":34.7,"y":39},{"t":"1 h","x":34.85,"y":42},{"t":"1 h","x":34.95,"y":48},{"t":"1 h","x":35.05,"y":67},{"t":"1 h","x":35.15,"y":99},{"t":"1 h","x":35.25,"y":68},{"t":"1 h","x":35.35,"y":52},{"t":"1 h","x":35.47,"y":54},{"t":"1 h","x":35.6,"y":68},{"t":"1 h","x":35.72,"y":52},{"t":"1 h","x":35.85,"y":41},{"t":"1 h","x":36.1,"y":36},{"t":"1 h","x":36.3,"y":36},{"t":"1 h","x":36.47,"y":36},{"t":"1 h","x":36.65,"y":39},{"t":"1 h","x":36.83,"y":36},{"t":"1 h","x":37,"y":35},{"t":"1 h","x":37.2,"y":35},{"t":"1 h","x":37.45,"y":37},{"t":"1 h","x":37.65,"y":51},{"t":"1 h","x":37.75,"y":68},{"t":"1 h","x":37.85,"y":51},{"t":"1 h","x":38.1,"y":35},{"t":"1 h","x":38.5,"y":33},{"t":"1 h","x":38.95,"y":31},{"t":"1 h","x":39.25,"y":32},{"t":"1 h","x":39.55,"y":31},{"t":"1 h","x":39.65,"y":30},{"t":"1 h","x":39.95,"y":31},{"t":"1 h","x":40.25,"y":30},{"t":"1 h","x":40.55,"y":31},{"t":"1 h","x":40.7,"y":34},{"t":"1 h","x":40.85,"y":41},{"t":"1 h","x":41,"y":34},{"t":"1 h","x":41.15,"y":31},{"t":"1 h","x":41.45,"y":27},{"t":"1 h","x":42,"y":26},{"t":"1 h","x":42.95,"y":32},{"t":"1 h","x":43.15,"y":45},{"t":"1 h","x":43.25,"y":72},{"t":"1 h","x":43.35,"y":119},{"t":"1 h","x":43.45,"y":72},{"t":"1 h","x":43.55,"y":45},{"t":"1 h","x":43.75,"y":32},{"t":"1 h","x":44,"y":26},{"t":"1 h","x":45,"y":25},{"t":"1 h","x":46,"y":24},{"t":"1 h","x":47,"y":25},{"t":"1 h","x":47.25,"y":26},{"t":"1 h","x":47.5,"y":25},{"t":"1 h","x":48,"y":24},{"t":"1 h","x":48.85,"y":26},{"t":"1 h","x":49.15,"y":28},{"t":"1 h","x":49.3,"y":32},{"t":"1 h","x":49.45,"y":39},{"t":"1 h","x":49.6,"y":32},{"t":"1 h","x":49.75,"y":28},{"t":"1 h","x":50.05,"y":26},{"t":"1 h","x":50.35,"y":24},{"t":"1 h","x":50.6,"y":25},{"t":"1 h","x":50.85,"y":23},{"t":"1 h","x":51,"y":22},{"t":"1 h","x":52,"y":23},{"t":"1 h","x":52.3,"y":27},{"t":"1 h","x":52.45,"y":41},{"t":"1 h","x":52.55,"y":60},{"t":"1 h","x":52.65,"y":41},{"t":"1 h","x":52.8,"y":28},{"t":"1 h","x":52.95,"y":25},{"t":"1 h","x":53.05,"y":25},{"t":"1 h","x":53.2,"y":26},{"t":"1 h","x":53.35,"y":25},{"t":"1 h","x":53.55,"y":24},{"t":"1 h","x":53.75,"y":26},{"t":"1 h","x":53.9,"y":32},{"t":"1 h","x":54.05,"y":42},{"t":"1 h","x":54.2,"y":32},{"t":"1 h","x":54.35,"y":26},{"t":"1 h","x":54.65,"y":23},{"t":"1 h","x":55,"y":22},{"t":"1 h","x":56,"y":22},{"t":"1 h","x":56.95,"y":27},{"t":"1 h","x":57.2,"y":40},{"t":"1 h","x":57.32,"y":68},{"t":"1 h","x":57.45,"y":114},{"t":"1 h","x":57.57,"y":68},{"t":"1 h","x":57.7,"y":40},{"t":"1 h","x":57.95,"y":27},{"t":"1 h","x":58.65,"y":21},{"t":"1 h","x":58.8,"y":21},{"t":"1 h","x":58.95,"y":22},{"t":"1 h","x":59.1,"y":21},{"t":"1 h","x":59.25,"y":21},{"t":"1 h","x":60,"y":20},{"t":"1 h","x":61,"y":21},{"t":"1 h","x":61.3,"y":22},{"t":"1 h","x":61.6,"y":21},{"t":"1 h","x":61.7,"y":22},{"t":"1 h","x":62.05,"y":24},{"t":"1 h","x":62.22,"y":28},{"t":"1 h","x":62.4,"y":35},{"t":"1 h","x":62.57,"y":28},{"t":"1 h","x":62.75,"y":24},{"t":"1 h","x":63.1,"y":22},{"t":"1 h","x":63.25,"y":22},{"t":"1 h","x":63.6,"y":24},{"t":"1 h","x":63.77,"y":28},{"t":"1 h","x":63.95,"y":35},{"t":"1 h","x":64.12,"y":28},{"t":"1 h","x":64.3,"y":24},{"t":"1 h","x":64.65,"y":22},{"t":"1 h","x":65,"y":21},{"t":"1 h","x":66,"y":20},{"t":"1 h","x":66.2,"y":24},{"t":"1 h","x":66.4,"y":35},{"t":"1 h","x":66.5,"y":48},{"t":"1 h","x":66.6,"y":35},{"t":"1 h","x":66.8,"y":24},{"t":"1 h","x":67,"y":21},{"t":"1 h","x":67.8,"y":23},{"t":"1 h","x":68,"y":29},{"t":"1 h","x":68.1,"y":40},{"t":"1 h","x":68.2,"y":59},{"t":"1 h","x":68.3,"y":40},{"t":"1 h","x":68.4,"y":29},{"t":"1 h","x":68.6,"y":23},{"t":"1 h","x":69,"y":21},{"t":"1 h","x":69.3,"y":21},{"t":"1 h","x":69.55,"y":22},{"t":"1 h","x":69.8,"y":21},{"t":"1 h","x":70,"y":21}
]
},
"layer": [
{"data": {"name": "xrd"},
 "mark": {"type": "line", "color": "#000", "strokeWidth": 2.8, "clip": true, "strokeJoin": "round"},
 "encoding": {
  "x": {"field": "x", "type": "quantitative", "scale": {"domain": [10, 70], "nice": false, "zero": false},
   "axis": {"values": [10, 20, 30, 40, 50, 60, 70], "title": "°2θ CuKα", "grid": false, "ticks": false, "domain": false,
    "labelFontSize": 46, "labelColor": "#000", "labelFlush": false, "labelOverlap": false, "labelBaseline": "alphabetic", "labelPadding": 39,
    "titleFontSize": 44, "titleFontWeight": "bold", "titleColor": "#000", "titleY": 106, "titleBaseline": "alphabetic"}},
  "y": {"field": "y", "type": "quantitative", "scale": {"domain": [0, 567], "nice": false, "zero": false},
   "axis": {"title": "Relative Intensity (a.u.)", "labels": false, "ticks": false, "domain": false, "grid": false,
    "titleFontSize": 41, "titleFontWeight": "bold", "titleColor": "#000", "titleX": -57, "titleY": 236, "titleAngle": 270, "titleBaseline": "alphabetic", "titleAlign": "center"}},
  "detail": {"field": "t", "type": "nominal"}
 }},
{"data": {"values": [{"x":10},{"x":20},{"x":30},{"x":40},{"x":50},{"x":60},{"x":70}]},
 "mark": {"type": "rule", "color": "#000", "strokeWidth": 1.6},
 "encoding": {"x": {"field": "x", "type": "quantitative"}, "y": {"datum": 0}, "y2": {"datum": 17}}},
{"data": {"values": [{"x":10},{"x":20},{"x":30},{"x":40},{"x":50},{"x":60},{"x":70}]},
 "mark": {"type": "rule", "color": "#000", "strokeWidth": 1.6},
 "encoding": {"x": {"field": "x", "type": "quantitative"}, "y": {"datum": 567}, "y2": {"datum": 550}}},
{"data": {"values": [{"x":15},{"x":25},{"x":35},{"x":45},{"x":55},{"x":65}]},
 "mark": {"type": "rule", "color": "#000", "strokeWidth": 1.6},
 "encoding": {"x": {"field": "x", "type": "quantitative"}, "y": {"datum": 0}, "y2": {"datum": 9}}},
{"data": {"values": [{"x":15},{"x":25},{"x":35},{"x":45},{"x":55},{"x":65}]},
 "mark": {"type": "rule", "color": "#000", "strokeWidth": 1.6},
 "encoding": {"x": {"field": "x", "type": "quantitative"}, "y": {"datum": 567}, "y2": {"datum": 558}}},
{"data": {"values": [{"lab":"3.5 h","y":288},{"lab":"3 h","y":235},{"lab":"2.5 h","y":186},{"lab":"2 h","y":136},{"lab":"1.5 h","y":76},{"lab":"1 h","y":23}]},
 "mark": {"type": "text", "align": "left", "baseline": "middle", "dx": 7, "fontSize": 28, "color": "#000"},
 "encoding": {"x": {"datum": 70}, "y": {"field": "y", "type": "quantitative"}, "text": {"field": "lab"}}},
{"data": {"values": [{"note": "70 C: Si/Fe = 0.001"}]},
 "mark": {"type": "text", "align": "right", "baseline": "alphabetic", "fontSize": 30, "color": "#000"},
 "encoding": {"x": {"datum": 68.25}, "y": {"datum": 510}, "text": {"field": "note"}}}
]
}
